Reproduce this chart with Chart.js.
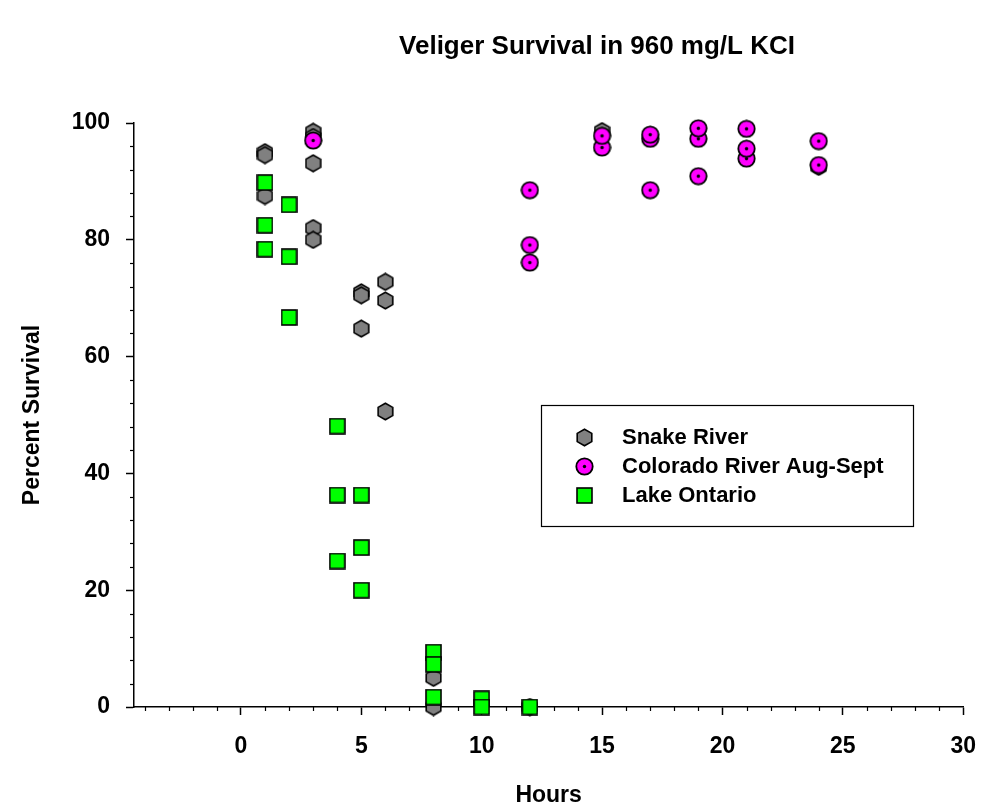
<!DOCTYPE html>
<html><head><meta charset="utf-8">
<script src="https://cdn.jsdelivr.net/npm/chart.js@4.4.1/dist/chart.umd.min.js"></script>
<style>html,body{margin:0;padding:0;background:#fff}#wrap{width:994px;height:809px}</style>
</head><body><div id="wrap"><canvas id="c" width="994" height="809"></canvas></div>
<script>
// ---- data ----
const chartTitle = 'Veliger Survival in 960 mg/L KCI';
const xAxisTitle = 'Hours';
const yAxisTitle = 'Percent Survival';
const seriesNames = ['Snake River', 'Colorado River Aug-Sept', 'Lake Ontario'];

const snakeHours    = [1, 1, 1, 3, 3, 3, 3, 3, 5, 5, 5, 6, 6, 6, 8, 8, 12, 15, 24];
const snakeSurvival = [95.0, 94.5, 87.5, 98.5, 97.6, 93.1, 82.0, 80.0, 71.0, 70.5, 64.8, 72.8, 69.6, 50.6, 5.0, 0, 0, 98.6, 92.5];

const coloradoHours    = [3, 12, 12, 12, 15, 15, 17, 17, 17, 19, 19, 19, 21, 21, 21, 24, 24];
const coloradoSurvival = [97.0, 88.5, 79.1, 76.1, 95.8, 97.8, 88.5, 97.3, 98.0, 90.9, 97.3, 99.1, 93.9, 95.6, 99.0, 92.8, 96.9];

const ontarioHours    = [1, 1, 1, 2, 2, 2, 4, 4, 4, 5, 5, 5, 8, 8, 8, 10, 10, 12];
const ontarioSurvival = [89.8, 82.5, 78.4, 86.0, 77.1, 66.7, 48.1, 36.3, 25.0, 36.3, 27.3, 20.0, 9.4, 7.3, 1.7, 1.4, 0, 0];

const xTickValues = [0, 5, 10, 15, 20, 25, 30];
const yTickValues = [0, 20, 40, 60, 80, 100];

// ---- marker images ----
function makeCanvas(w, h) { const c = document.createElement('canvas'); c.width = w; c.height = h; return c; }
function hexMarker() {
  const w = 17, h = 19, c = makeCanvas(w, h), g = c.getContext('2d');
  const cx = w / 2, cy = h / 2, rx = w / 2 - 1.2, ry = h / 2 - 1.2;
  g.beginPath();
  g.moveTo(cx, cy - ry); g.lineTo(cx + rx, cy - ry / 2); g.lineTo(cx + rx, cy + ry / 2);
  g.lineTo(cx, cy + ry); g.lineTo(cx - rx, cy + ry / 2); g.lineTo(cx - rx, cy - ry / 2);
  g.closePath(); g.fillStyle = '#808080'; g.fill();
  g.lineWidth = 1.6; g.strokeStyle = '#000'; g.lineJoin = 'miter'; g.stroke();
  return c;
}
function circleMarker() {
  const s = 19, c = makeCanvas(s, s), g = c.getContext('2d');
  g.beginPath(); g.arc(s / 2, s / 2, s / 2 - 1.3, 0, Math.PI * 2);
  g.fillStyle = '#ff00ff'; g.fill(); g.lineWidth = 1.8; g.strokeStyle = '#000'; g.stroke();
  g.beginPath(); g.arc(s / 2, s / 2, 1.7, 0, Math.PI * 2); g.fillStyle = '#000'; g.fill();
  return c;
}
function squareMarker() {
  const s = 17, c = makeCanvas(s, s), g = c.getContext('2d');
  g.fillStyle = '#00ff00'; g.fillRect(1, 1, s - 2, s - 2);
  g.lineWidth = 1.6; g.strokeStyle = '#000'; g.strokeRect(1, 1, s - 2, s - 2);
  return c;
}
const markers = [hexMarker(), circleMarker(), squareMarker()];

function pts(xs, ys) { return xs.map((x, i) => ({ x: x, y: ys[i] })); }

const FONT = "'Liberation Sans', Arial, sans-serif";

const extras = {
  id: 'extras',
  beforeDatasetsDraw(chart) {
    const g = chart.ctx, xs = chart.scales.x, ys = chart.scales.y;
    g.save(); g.strokeStyle = '#000'; g.lineWidth = 1.2;
    for (let v = -4; v <= 30; v++) {
      if (v % 5 === 0) continue;
      const px = Math.round(xs.getPixelForValue(v)) + 0.5;
      g.beginPath(); g.moveTo(px, ys.bottom); g.lineTo(px, ys.bottom + 4); g.stroke();
    }
    for (let v = 0; v <= 100; v += 4) {
      if (v % 20 === 0) continue;
      const py = Math.round(ys.getPixelForValue(v)) + 0.5;
      g.beginPath(); g.moveTo(xs.left, py); g.lineTo(xs.left - 4, py); g.stroke();
    }
    g.restore();
  },
  afterDraw(chart) {
    const g = chart.ctx;
    g.save();
    // title
    g.fillStyle = '#000'; g.font = 'bold 26px ' + FONT; g.textAlign = 'center'; g.textBaseline = 'middle';
    g.fillText(chartTitle, 597, 47);
    // legend box
    g.lineWidth = 1.2; g.strokeStyle = '#000';
    g.strokeRect(541.5, 405.5, 372, 121);
    g.font = 'bold 22px ' + FONT; g.textAlign = 'left';
    const rows = [437, 466, 495];
    for (let i = 0; i < 3; i++) {
      const m = markers[i];
      g.drawImage(m, 584 - Math.floor(m.width / 2), rows[i] - Math.floor(m.height / 2));
      g.fillText(seriesNames[i], 622, rows[i] + 1);
    }
    g.restore();
  }
};

new Chart(document.getElementById('c'), {
  type: 'scatter',
  data: {
    datasets: [
      { label: seriesNames[0], data: pts(snakeHours, snakeSurvival), pointStyle: markers[0], order: 3, clip: false },
      { label: seriesNames[1], data: pts(coloradoHours, coloradoSurvival), pointStyle: markers[1], order: 2, clip: false },
      { label: seriesNames[2], data: pts(ontarioHours, ontarioSurvival), pointStyle: markers[2], order: 1, clip: false }
    ]
  },
  options: {
    responsive: false, animation: false, devicePixelRatio: 1,
    layout: { padding: { top: 123, right: 30, left: 0, bottom: 0 } },
    plugins: { legend: { display: false }, title: { display: false }, tooltip: { enabled: false } },
    scales: {
      x: {
        type: 'linear', min: -4.44, max: 30,
        afterBuildTicks: s => { s.ticks = xTickValues.map(v => ({ value: v })); },
        afterFit: s => { s.height = 102; },
        grid: { display: true, drawOnChartArea: false, drawTicks: true, tickLength: 8, tickColor: '#000', tickWidth: 1.5 },
        border: { display: true, color: '#000', width: 1.5 },
        ticks: { color: '#000', font: { family: FONT, size: 23, weight: 'bold' }, padding: 18, maxRotation: 0, autoSkip: false },
        title: { display: true, text: xAxisTitle, color: '#000', font: { family: FONT, size: 23, weight: 'bold' }, padding: { top: 0, bottom: 0 } }
      },
      y: {
        type: 'linear', min: 0, max: 100,
        afterBuildTicks: s => { s.ticks = yTickValues.map(v => ({ value: v })); },
        afterFit: s => { s.width = 134; },
        grid: { display: true, drawOnChartArea: false, drawTicks: true, tickLength: 8, tickColor: '#000', tickWidth: 1.5 },
        border: { display: true, color: '#000', width: 1.5 },
        ticks: { color: '#000', font: { family: FONT, size: 23, weight: 'bold' }, padding: 16, autoSkip: false },
        title: { display: true, text: yAxisTitle, color: '#000', font: { family: FONT, size: 23, weight: 'bold' }, padding: { top: 19, bottom: 0 } }
      }
    }
  },
  plugins: [extras]
});
</script>
</body></html>
